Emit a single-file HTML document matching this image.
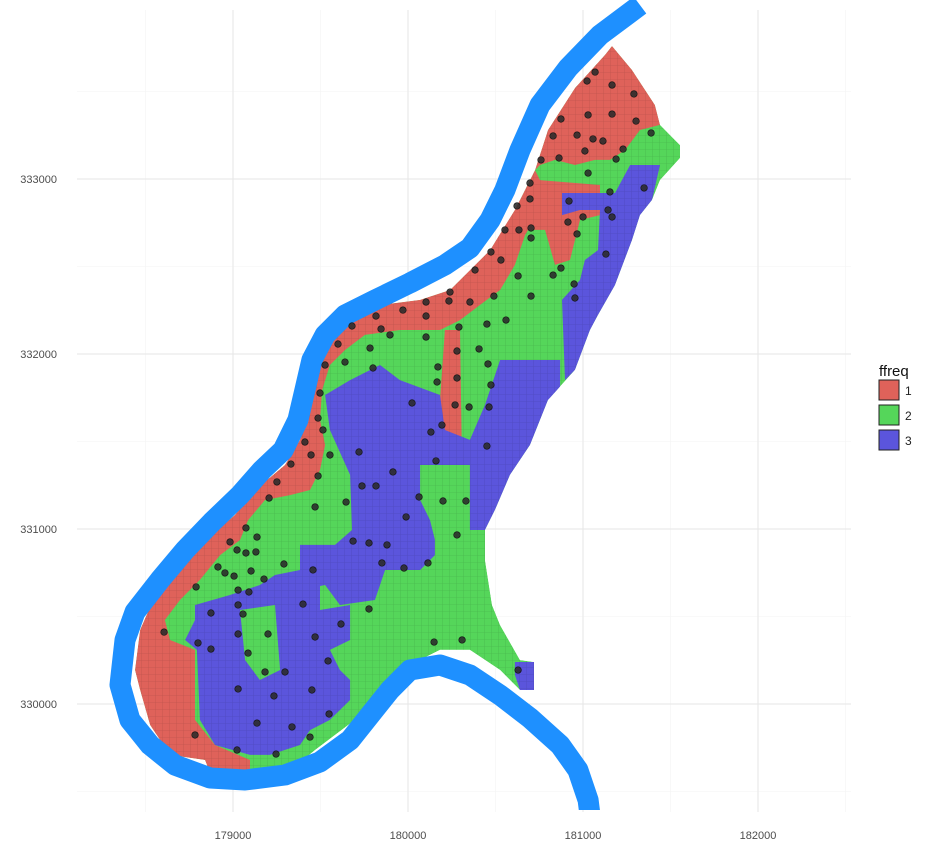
<!DOCTYPE html>
<html><head><meta charset="utf-8"><style>
body{margin:0;background:#fff;font-family:"Liberation Sans",sans-serif}
svg text{font-family:"Liberation Sans",sans-serif}
</style></head><body>
<svg id="chart" width="941" height="853" viewBox="0 0 941 853" xmlns="http://www.w3.org/2000/svg">
<defs>
<pattern id="cells" patternUnits="userSpaceOnUse" x="2" y="3" width="7" height="7">
<path d="M7 0V7H0" fill="none" stroke="rgba(0,0,0,0.13)" stroke-width="0.8"/>
</pattern>
<clipPath id="envclip"><polygon id="envclipPoly"/></clipPath>
<clipPath id="panelclip"><rect x="77" y="0" width="774" height="810"/></clipPath>
</defs>
<g id="grid"></g>
<g id="cellsG" clip-path="url(#envclip)"></g>
<g id="river" clip-path="url(#panelclip)"></g>
<g id="pts"></g>
<g id="axes"></g>
<g>
<text x="879" y="376" font-size="15" fill="#111">ffreq</text>
<rect x="879" y="380" width="20" height="20" fill="#DF625A" stroke="#222" stroke-width="1"/>
<text x="905" y="395" font-size="12" fill="#222">1</text>
<rect x="879" y="405" width="20" height="20" fill="#55D65A" stroke="#222" stroke-width="1"/>
<text x="905" y="420" font-size="12" fill="#222">2</text>
<rect x="879" y="430" width="20" height="20" fill="#5B55DC" stroke="#222" stroke-width="1"/>
<text x="905" y="445" font-size="12" fill="#222">3</text>
</g>
</svg>
<script>
const xTicks=[179000,180000,181000,182000];
const xMinor=[178500,179500,180500,181500,182500];
const yTicks=[330000,331000,332000,333000];
const yMinor=[329500,330500,331500,332500,333500];
const envelope=[[181166,333760],[181280,333623],[181411,333423],[181440,333309],[181554,333194],[181554,333120],[181440,332994],[181394,332880],[181326,332794],[181280,332651],[181183,332394],[181086,332223],[181040,332137],[180954,331909],[180800,331737],[180697,331480],[180583,331309],[180497,331109],[180440,330994],[180440,330823],[180480,330566],[180526,330451],[180640,330251],[180720,330240],[180720,330080],[180640,330080],[180526,330194],[180354,330309],[180183,330309],[179954,330194],[179869,330080],[179697,329909],[179469,329737],[179400,329680],[179240,329623],[178869,329606],[178840,329680],[178640,329709],[178526,329880],[178469,330080],[178440,330194],[178469,330423],[178514,330526],[178669,330737],[178811,330909],[179011,331080],[179126,331223],[179297,331366],[179383,331509],[179440,331737],[179497,331937],[179611,332166],[179697,332251],[179840,332280],[180069,332309],[180240,332366],[180469,332594],[180611,332823],[180726,333051],[180800,333280],[180954,333520],[181126,333709]];
const red1=[[181166,333760],[181280,333623],[181411,333423],[181440,333309],[181326,333280],[181240,333166],[181154,333109],[181069,333109],[180954,333080],[180840,333109],[180754,333080],[180726,333051],[180800,333280],[180954,333520],[181126,333709]];
const red2=[[180783,332937],[180726,333051],[180640,332880],[180554,332737],[180469,332594],[180240,332366],[180069,332309],[179840,332280],[179697,332251],[179611,332166],[179497,331937],[179440,331737],[179383,331509],[179297,331366],[179126,331223],[179011,331080],[178811,330909],[178669,330737],[178514,330526],[178469,330423],[178440,330194],[178469,330080],[178526,329880],[178640,329709],[178840,329680],[178869,329606],[179097,329606],[179097,329680],[178897,329766],[178783,329909],[178783,330309],[178640,330366],[178611,330480],[178697,330594],[178811,330709],[178926,330851],[179040,330937],[179086,331051],[179183,331166],[179326,331194],[179440,331223],[179497,331337],[179526,331480],[179497,331623],[179509,331794],[179554,331937],[179640,332023],[179754,332109],[179954,332137],[180183,332137],[180297,332194],[180411,332280],[180526,332366],[180611,332509],[180669,332680],[180754,332823]];
const red3=[[180211,332137],[180297,332137],[180309,331337],[180183,331337],[180183,331737]];
const red4=[[180754,332994],[181097,332966],[181097,332794],[180983,332766],[180926,332537],[180840,332509],[180783,332709],[180640,332709],[180669,332880]];
const blue1=[[180880,332920],[181183,332920],[181269,333080],[181440,333080],[181394,332880],[181326,332794],[181280,332651],[181183,332394],[181086,332223],[181040,332137],[180954,331909],[180897,331851],[180880,332309],[180983,332423],[181011,332537],[181086,332594],[181097,332823],[180983,332823],[180880,332794]];
const blue2=[[179526,331766],[179669,331851],[179840,331937],[179954,331851],[180183,331766],[180211,331566],[180354,331509],[180440,331709],[180526,331966],[180869,331966],[180869,331794],[180800,331737],[180754,331623],[180697,331480],[180583,331309],[180497,331109],[180440,330994],[180354,330994],[180297,331109],[180154,331051],[180154,330851],[180069,330766],[179869,330766],[179811,330594],[179611,330566],[179526,330680],[179383,330651],[179383,330909],[179583,330909],[179680,330994],[179669,331309],[179554,331566]];
const green1=[[180069,331366],[180354,331366],[180354,330966],[180440,330966],[180440,330851],[180183,330823],[180126,331051],[180069,331166]];
const blue3=[[178783,330566],[178983,330623],[179154,330680],[179240,330737],[179383,330766],[179497,330709],[179497,330537],[179669,330566],[179669,330366],[179554,330309],[179611,330194],[179669,330137],[179669,330023],[179554,329909],[179440,329851],[179383,329766],[179211,329709],[179097,329709],[178897,329766],[178811,329909],[178794,330309],[178726,330366],[178783,330480]];
const green2=[[179040,330537],[179240,330566],[179269,330194],[179154,330137],[179069,330251]];
const blue4=[[180611,330240],[180720,330240],[180720,330080],[180640,330080],[180611,330166]];
const riverX=[181326,181097,180914,180754,180640,180554,180469,180354,180211,180011,179811,179640,179526,179451,179411,179371,179286,179166,179040,178880,178726,178583,178440,178383,178354,178411,178526,178669,178869,179069,179297,179497,179669,179783,179897,180011,180183,180354,180526,180697,180869,180971,181029,181051];
const riverY=[333994,333823,333634,333423,333166,332937,332766,332606,332509,332406,332308,332223,332109,331966,331794,331623,331451,331337,331194,331040,330880,330709,330526,330366,330109,329909,329766,329651,329577,329566,329594,329669,329794,329937,330080,330194,330223,330166,330051,329920,329766,329623,329451,329280];
const ptX=[181069,181023,181166,181291,180874,181029,181166,181303,181389,180829,180966,181057,181114,181229,181011,181189,180760,180863,181029,181349,180697,181154,180920,180623,180697,181143,181000,180914,181166,180554,180634,180703,180966,180703,180474,180531,181131,180829,180874,180949,180629,180383,180954,180703,180491,180240,180354,180103,179971,180234,180103,179817,179680,179846,179897,180291,180560,180451,180103,179600,179783,179526,179640,180280,180406,180171,180457,179800,180166,180474,180280,179497,180023,180269,180349,180463,179486,180194,179514,180131,180451,179411,179446,179554,179720,180160,179914,179486,179331,179251,179737,179817,179206,180063,180331,179469,179646,179989,180200,179074,178983,179137,180280,179023,179074,179131,179686,179777,179880,179291,179457,179851,180114,179977,179103,178914,178954,179006,179177,179029,179091,179400,178789,179029,178874,179057,179777,179617,178606,179029,179200,179469,178800,178874,180309,180149,179086,179297,179183,179543,180629,179029,179451,179234,179549,179137,179337,178783,179440,179023,179246];
const ptY=[333611,333560,333537,333486,333343,333366,333371,333331,333263,333246,333251,333229,333217,333171,333160,333114,333109,333120,333034,332949,332977,332926,332874,332846,332886,332823,332783,332754,332783,332709,332709,332720,332686,332663,332583,332537,332571,332451,332491,332400,332446,332480,332320,332331,332331,332354,332297,332297,332251,332303,332217,332217,332160,332143,332109,332154,332194,332171,332097,332057,332034,331937,331954,332017,332029,331926,331943,331920,331840,331823,331863,331777,331720,331709,331697,331697,331634,331594,331566,331554,331474,331497,331423,331423,331440,331389,331326,331303,331371,331269,331246,331246,331177,331183,331160,331126,331154,331069,331160,331006,330926,330954,330966,330880,330863,330869,330931,330920,330909,330800,330766,330806,330806,330777,330760,330783,330749,330731,330714,330651,330640,330571,330669,330566,330520,330514,330543,330457,330411,330400,330400,330383,330349,330314,330366,330354,330291,330183,330183,330246,330194,330086,330080,330046,329943,329891,329869,329823,329811,329737,329714];

const NS='http://www.w3.org/2000/svg';
const SC=0.175;
function sx(v){return 233+(v-179000)*SC;}
function sy(v){return 704-(v-330000)*SC;}
function mk(tag,attrs,parent){const e=document.createElementNS(NS,tag);for(const k in attrs)e.setAttribute(k,attrs[k]);parent.appendChild(e);return e;}
function pts(arr){return arr.map(p=>sx(p[0]).toFixed(1)+','+sy(p[1]).toFixed(1)).join(' ');}

const grid=document.getElementById('grid');
const L=77,R=851,T=10,B=812;
xMinor.forEach(v=>{const l=mk('line',{x1:sx(v),x2:sx(v),y1:T,y2:B,stroke:'#f3f3f3','stroke-width':0.6},grid);

});
yMinor.forEach(v=>{const l=mk('line',{x1:L,x2:R,y1:sy(v),y2:sy(v),stroke:'#f3f3f3','stroke-width':0.6},grid);

});
xTicks.forEach(v=>{const l=mk('line',{x1:sx(v),x2:sx(v),y1:T,y2:B,stroke:'#e6e6e6','stroke-width':1},grid);

});
yTicks.forEach(v=>{const l=mk('line',{x1:L,x2:R,y1:sy(v),y2:sy(v),stroke:'#e6e6e6','stroke-width':1},grid);

});

document.getElementById('envclipPoly').setAttribute('points',pts(envelope));
const cg=document.getElementById('cellsG');
const layers=[[envelope,'#55D65A','cells-class-2'],[red1,'#DF625A','cells-class-1-north'],[red2,'#DF625A','cells-class-1-west'],[red3,'#DF625A','cells-class-1-center'],[red4,'#DF625A','cells-class-1-east'],[blue1,'#5B55DC','cells-class-3-east'],[blue2,'#5B55DC','cells-class-3-center'],[green1,'#55D65A','cells-class-2-center'],[blue3,'#5B55DC','cells-class-3-south'],[green2,'#55D65A','cells-class-2-south'],[blue4,'#5B55DC','cells-class-3-southeast']];
layers.forEach(ly=>{const p=mk('polygon',{points:pts(ly[0]),fill:ly[1]},cg);

});
const ov=mk('rect',{x:0,y:0,width:941,height:853,fill:'url(#cells)'},cg);



const rv=document.getElementById('river');
const rp=riverX.map((x,i)=>sx(x).toFixed(1)+','+sy(riverY[i]).toFixed(1)).join(' ');
const rl=mk('polyline',{points:rp,fill:'none',stroke:'#1E90FF','stroke-width':21,'stroke-linejoin':'round'},rv);



const pg=document.getElementById('pts');
ptX.forEach((x,i)=>{const c=mk('circle',{cx:sx(x),cy:sy(ptY[i]),r:3.3,fill:'#2a2a2a','fill-opacity':0.88,stroke:'#111','stroke-width':0.6},pg);

});

const ax=document.getElementById('axes');
xTicks.forEach(v=>{const t=mk('text',{x:sx(v),y:839,'font-size':11,fill:'#4d4d4d','text-anchor':'middle'},ax);t.textContent=v;

});
yTicks.forEach(v=>{const t=mk('text',{x:57,y:sy(v)+4,'font-size':11,fill:'#4d4d4d','text-anchor':'end'},ax);t.textContent=v;

});
</script>
</body></html>
